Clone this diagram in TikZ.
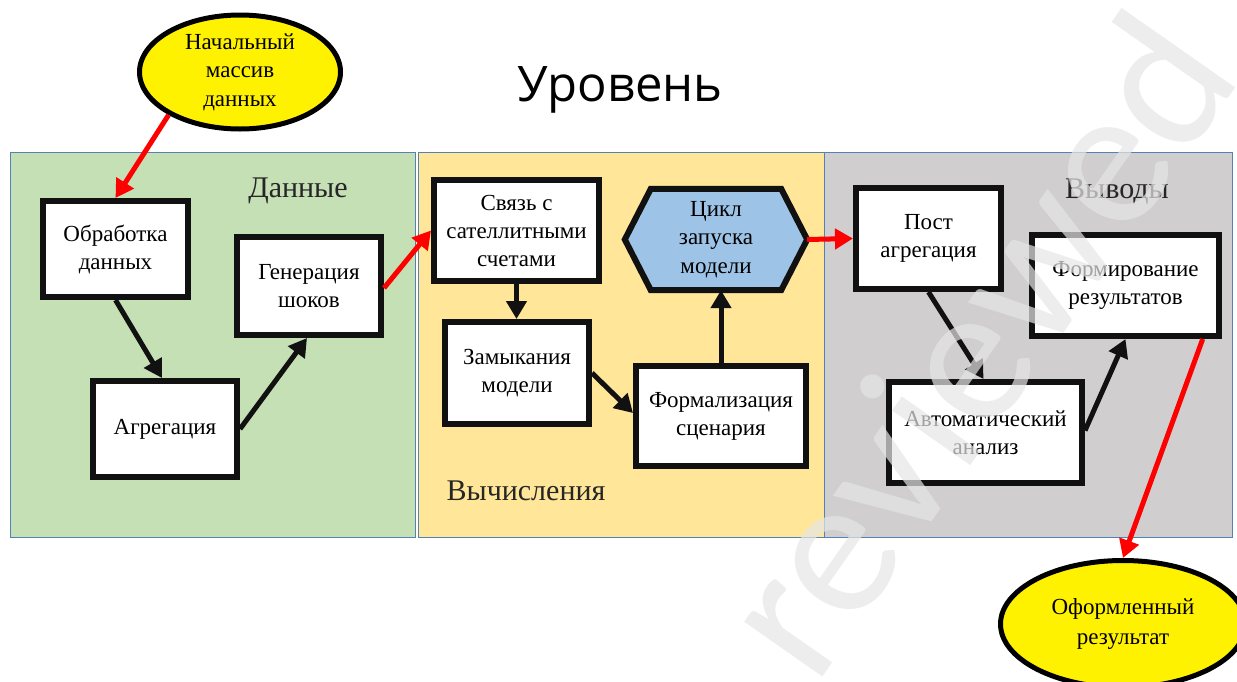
\documentclass[tikz,border=0pt]{standalone}
\usepackage{fontspec}
\setmainfont{Liberation Serif}
\newfontfamily\titlefont{Open Sans}
\newfontfamily\wmfont{Carlito}
\usetikzlibrary{arrows.meta,shapes.geometric,calc}
\definecolor{pgreen}{RGB}{197,224,180}
\definecolor{pyellow}{RGB}{255,230,153}
\definecolor{pgray}{RGB}{208,206,206}
\definecolor{pborder}{RGB}{84,130,180}
\definecolor{hexblue}{RGB}{157,195,230}
\definecolor{wmgray}{RGB}{230,230,230}
\definecolor{ink}{RGB}{17,17,17}
\definecolor{labelink}{RGB}{38,38,38}
\begin{document}
\begin{tikzpicture}[x=1pt,y=-1pt,
  panel/.style={draw=pborder,line width=1pt},
  box/.style={draw=ink,fill=white,line width=6pt,align=center,
    font=\fontsize{23}{28}\selectfont,inner sep=0pt},
  oval/.style={ellipse,draw=black,fill=yellow,line width=5pt,align=center,
    font=\fontsize{23}{28.5}\selectfont,inner sep=0pt},
  redarrow/.style={draw=red,line width=5pt,-{Triangle[length=18pt,width=20pt]}},
  blackarrow/.style={draw=ink,line width=5pt,-{Triangle[length=18pt,width=20pt]}},
  plabel/.style={font=\fontsize{30}{36}\selectfont,text=labelink,anchor=base,inner sep=0pt}
]
\useasboundingbox (0,0) rectangle (1237,681);
\clip (0,0) rectangle (1237,681);
\fill[white] (0,0) rectangle (1237,681);

% panels
\path[panel,fill=pgreen] (10,152) rectangle (415,537);
\path[panel,fill=pyellow] (418,152) rectangle (824,537);
\path[panel,fill=pgray] (824,152) rectangle (1232,537);

% labels
\node[font=\titlefont\fontsize{49}{50}\selectfont,anchor=base,inner sep=0pt] (title) at (620,101) {Уровень};
\node[plabel] (ldata) at (298,197) {Данные};
\node[plabel] (lcalc) at (526,500) {Вычисления};
\node[plabel] (lout) at (1117,198) {Выводы};

% ovals
\node[oval,minimum width=201pt,minimum height=114pt] (e1) at (240,72) {Начальный\\массив\\данных};
\node[oval,minimum width=245pt,minimum height=127pt,font=\fontsize{23}{30}\selectfont] (e2) at (1123,624) {Оформленный\\результат};

% boxes
\node[box,minimum width=145pt,minimum height=96pt] (obr) at (115.5,249) {Обработка\\данных};
\node[box,minimum width=144pt,minimum height=98pt] (gen) at (309,286) {Генерация\\шоков};
\node[box,minimum width=144pt,minimum height=96pt] (agr) at (165,429) {Агрегация};
\node[box,minimum width=165pt,minimum height=101pt] (svz) at (516.5,230.5) {Связь с\\сателлитными\\счетами};
\node[box,minimum width=144pt,minimum height=102pt] (zam) at (517,373) {Замыкания\\модели};
\node[box,minimum width=170pt,minimum height=100pt] (frm) at (721,416) {Формализация\\сценария};
\node[box,minimum width=145pt,minimum height=101pt] (post) at (928.5,238.5) {Пост\\агрегация};
\node[box,minimum width=187pt,minimum height=101pt] (form) at (1125.5,285.5) {Формирование\\результатов};
\node[box,minimum width=193pt,minimum height=101pt] (avt) at (985.5,432.5) {Автоматический\\анализ};

% hexagon
\node[minimum width=182pt,minimum height=101pt,inner sep=0pt] (hex) at (716,239.5) {};
\path[draw=ink,fill=hexblue,line width=6pt]
  ($(hex.north west)+(26,0)$) -- ($(hex.north east)+(-26,0)$) -- (hex.east)
  -- ($(hex.south east)+(-26,0)$) -- ($(hex.south west)+(26,0)$) -- (hex.west) -- cycle;
\node[align=center,font=\fontsize{23}{28.5}\selectfont,inner sep=0pt] (hextext) at (hex.center) {Цикл\\запуска\\модели};

% connectors
\draw[redarrow] (e1.211) -- (obr.north);
\draw[blackarrow] (obr.south) -- ($(agr.north)+(-3,0)$);
\draw[blackarrow] (agr.east) -- ($(gen.south)+(-2,0)$);
\draw[redarrow] ($(gen.east)+(0,2)$) -- (svz.west);
\draw[blackarrow] (svz.south) -- (svz.south |- zam.north);
\draw[blackarrow] (zam.east) -- ($(frm.west)+(0,-3)$);
\draw[blackarrow] (frm.north) -- (frm.north |- hex.south);
\draw[redarrow] (hex.east) -- (post.west);
\draw[blackarrow] (post.south) -- ($(avt.north)+(-2,0)$);
\draw[blackarrow] ($(avt.east)+(0,-2)$) -- (form.south);
\draw[redarrow] ($(form.south)!0.8!(form.south east)$) -- (e2.north);

% watermark
\node[rotate=55,anchor=base west,text=wmgray,opacity=0.7,inner sep=0pt,
  font=\wmfont\fontsize{200}{200}\selectfont] (wm) at (815,688) {reviewed};
\end{tikzpicture}
\end{document}
